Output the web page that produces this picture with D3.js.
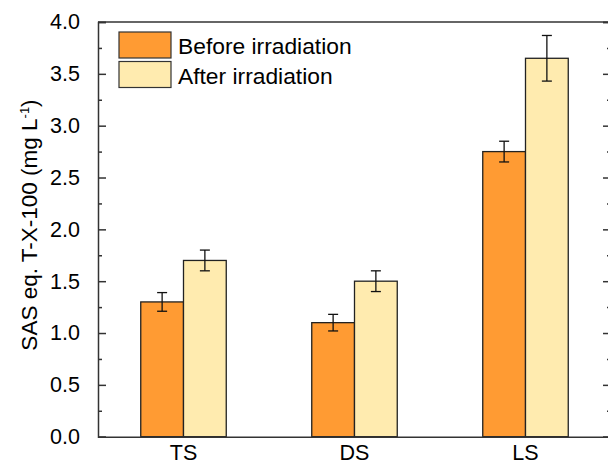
<!DOCTYPE html>
<html>
<head>
<meta charset="utf-8">
<script src="https://cdn.jsdelivr.net/npm/d3@7"></script>
<style>
  body { margin: 0; background: #fff; }
  svg { font-family: "Liberation Sans", Arial, sans-serif; }
</style>
</head>
<body>
<div id="chart"></div>
<script>
// data
const categories = ['TS', 'DS', 'LS'];
const seriesNames = ['Before irradiation', 'After irradiation'];
const beforeValues = [1.30, 1.10, 2.75];
const beforeErrors = [0.09, 0.08, 0.10];
const afterValues = [1.70, 1.50, 3.65];
const afterErrors = [0.10, 0.10, 0.22];
const yTicks = [0, 0.5, 1.0, 1.5, 2.0, 2.5, 3.0, 3.5, 4.0];
const yMinorTicks = [0.25, 0.75, 1.25, 1.75, 2.25, 2.75, 3.25, 3.75];
const colors = ['#FF9B33', '#FFEBAF'];

const width = 608, height = 466;
const margin = { top: 22, right: -3, bottom: 29.3, left: 98 };

const svg = d3.select('#chart')
    .append('svg')
    .attr('width', width)
    .attr('height', height);

const x0 = margin.left, x1 = width - margin.right;
const yBottom = height - margin.bottom;

// scales
const x = d3.scaleBand()
    .domain(categories)
    .range([x0, x1])
    .paddingInner(0.5)
    .paddingOuter(0.25);

const xSub = d3.scaleBand()
    .domain([0, 1])
    .range([0, x.bandwidth()]);

const y = d3.scaleLinear()
    .domain([0, 4])
    .range([yBottom, margin.top]);

// bars
const rows = categories.map((c, i) => ({
    cat: c,
    vals: [
        { s: 0, v: beforeValues[i], e: beforeErrors[i] },
        { s: 1, v: afterValues[i], e: afterErrors[i] }
    ]
}));

const groups = svg.append('g')
    .selectAll('g')
    .data(rows)
    .join('g')
    .attr('transform', d => `translate(${x(d.cat)},0)`);

groups.selectAll('rect')
    .data(d => d.vals)
    .join('rect')
    .attr('x', d => xSub(d.s))
    .attr('y', d => y(d.v))
    .attr('width', xSub.bandwidth())
    .attr('height', d => y(0) - y(d.v))
    .attr('fill', d => colors[d.s])
    .attr('stroke', '#222')
    .attr('stroke-width', 1.3);

// error bars
const eb = groups.selectAll('g.err')
    .data(d => d.vals)
    .join('g')
    .attr('class', 'err')
    .attr('stroke', '#111')
    .attr('stroke-width', 1.3);

const cx = d => xSub(d.s) + xSub.bandwidth() / 2;
eb.append('line')
    .attr('x1', cx).attr('x2', cx)
    .attr('y1', d => y(d.v + d.e))
    .attr('y2', d => y(d.v - d.e));
eb.append('line')
    .attr('x1', d => cx(d) - 5).attr('x2', d => cx(d) + 5)
    .attr('y1', d => y(d.v + d.e)).attr('y2', d => y(d.v + d.e));
eb.append('line')
    .attr('x1', d => cx(d) - 5).attr('x2', d => cx(d) + 5)
    .attr('y1', d => y(d.v - d.e)).attr('y2', d => y(d.v - d.e));

// top frame line
svg.append('line')
    .attr('x1', x0).attr('x2', x1)
    .attr('y1', margin.top).attr('y2', margin.top)
    .attr('stroke', '#333').attr('stroke-width', 1.5);

// left axis
const yAxis = svg.append('g')
    .attr('transform', `translate(${x0},0)`)
    .call(d3.axisLeft(y).tickValues(yTicks).tickFormat(d3.format('.1f'))
        .tickSize(-8).tickPadding(10 + 8));
svg.append('g')
    .attr('transform', `translate(${x0},0)`)
    .call(d3.axisLeft(y).tickValues(yMinorTicks).tickFormat('').tickSize(-4))
    .call(g => g.select('.domain').remove());

yAxis.selectAll('text')
    .attr('font-size', 21.5)
    .attr('fill', '#000')
    .attr('font-family', '"Liberation Sans", Arial, sans-serif');

// right axis
svg.append('g')
    .attr('transform', `translate(${x1},0)`)
    .call(d3.axisRight(y).tickValues(yTicks).tickFormat('').tickSize(-8));
svg.append('g')
    .attr('transform', `translate(${x1},0)`)
    .call(d3.axisRight(y).tickValues(yMinorTicks).tickFormat('').tickSize(-4))
    .call(g => g.select('.domain').remove());

// bottom axis
const xAxis = svg.append('g')
    .attr('transform', `translate(0,${yBottom})`)
    .call(d3.axisBottom(x).tickSize(0).tickPadding(8));
xAxis.selectAll('text')
    .attr('font-size', 21.5)
    .attr('fill', '#000')
    .attr('font-family', '"Liberation Sans", Arial, sans-serif');

svg.selectAll('.domain, .tick line')
    .attr('stroke', '#333')
    .attr('stroke-width', 1.5);

// y title
const title = svg.append('text')
    .attr('transform', `translate(37,225) rotate(-90)`)
    .attr('text-anchor', 'middle')
    .attr('font-size', 22.5)
    .attr('fill', '#000');
title.append('tspan').text('SAS eq. T-X-100 (mg L');
title.append('tspan').attr('dy', -8).attr('font-size', 13).text('-1');
title.append('tspan').attr('dy', 8).text(')');

// legend
const legend = svg.append('g')
    .attr('transform', 'translate(119,32)');
const li = legend.selectAll('g')
    .data(seriesNames)
    .join('g')
    .attr('transform', (d, i) => `translate(0,${i * 29.5})`);
li.append('rect')
    .attr('width', 52)
    .attr('height', 26)
    .attr('fill', (d, i) => colors[i])
    .attr('stroke', '#333')
    .attr('stroke-width', 1.2);
li.append('text')
    .attr('x', 59)
    .attr('y', 22)
    .attr('font-size', 22.8)
    .attr('fill', '#000')
    .text(d => d);
</script>
</body>
</html>
